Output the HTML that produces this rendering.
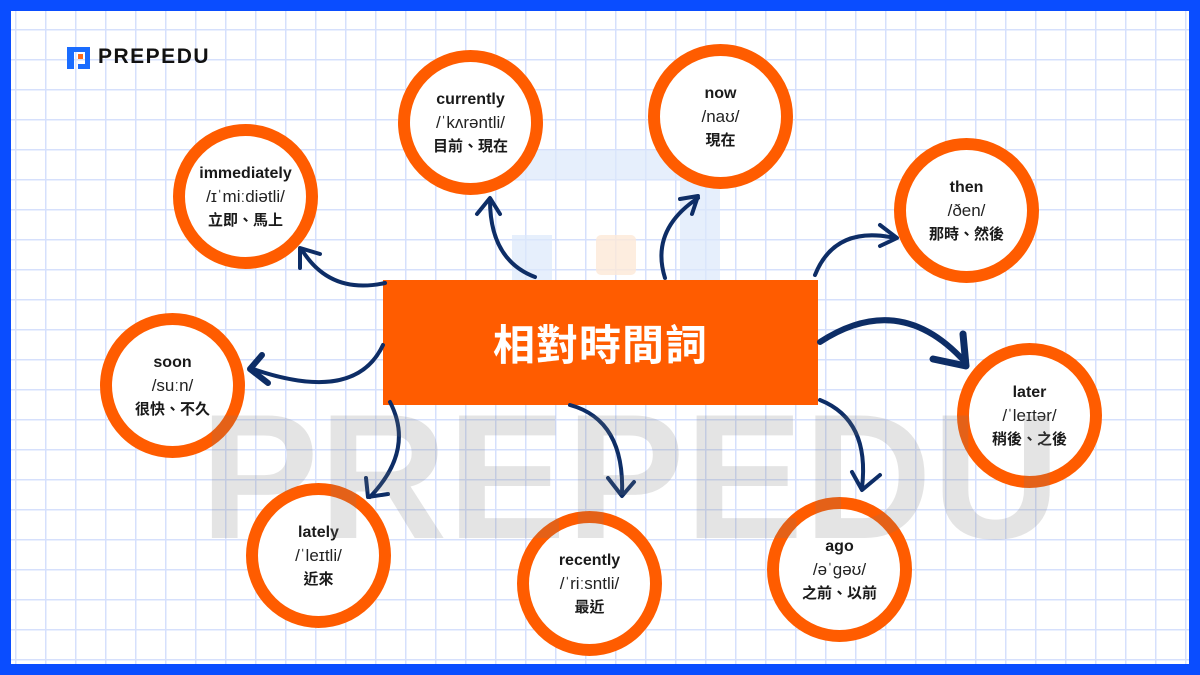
<!DOCTYPE html>
<html><head><meta charset="utf-8"><style>
html,body{margin:0;padding:0}
body{width:1200px;height:675px;overflow:hidden;position:relative;background:#0a4dff;font-family:"Liberation Sans","Noto Sans CJK TC",sans-serif}
.inner{position:absolute;left:11px;top:11px;width:1178px;height:653px;background-color:#fff;
background-image:linear-gradient(#d6e0fc 1.5px,transparent 1.5px),linear-gradient(90deg,#d6e0fc 1.5px,transparent 1.5px);
background-size:30px 30px;background-position:-11px 18px,4px 0}
.c{position:absolute;width:121px;height:121px;border:12px solid #ff5c00;border-radius:50%;background:#fff;display:flex;flex-direction:column;align-items:center;justify-content:center;text-align:center;color:#1a1a1a;line-height:23px}
.c b{font-size:16px}
.c i{font-style:normal;font-size:17px;color:#222}
.c span{font-size:15px;font-weight:bold;font-family:"Noto Sans CJK TC",sans-serif}
.box{position:absolute;left:383px;top:280px;width:435px;height:125px;background:#ff5c00;color:#fff;font-family:"Noto Sans CJK TC",sans-serif;font-weight:bold;font-size:42px;display:flex;align-items:center;justify-content:center;letter-spacing:1px}
.wm{position:absolute;left:200px;top:388px;font-size:178px;font-weight:bold;color:rgba(120,120,120,0.2);line-height:178px;white-space:nowrap}
</style></head><body>
<div class="inner"></div>
<svg style="position:absolute;left:0;top:0" width="1200" height="675">
<rect x="512" y="150" width="208" height="30" fill="#dbe8fb" opacity=".7"/>
<rect x="512" y="235" width="40" height="80" fill="#dbe8fb" opacity=".7"/>
<rect x="596" y="235" width="40" height="40" rx="5" fill="#fde9d7" opacity=".8"/>
<rect x="680" y="180" width="40" height="130" fill="#dbe8fb" opacity=".7"/>
</svg>
<div style="position:absolute;left:67px;top:45px;width:26px;height:26px">
<div style="position:absolute;left:0;top:2px;width:7px;height:22px;background:#1a6cff"></div>
<div style="position:absolute;left:0;top:2px;width:22px;height:5px;background:#1a6cff"></div>
<div style="position:absolute;left:11px;top:9px;width:5px;height:5px;background:#ff6a1a"></div>
<div style="position:absolute;left:18px;top:2px;width:5px;height:22px;background:#1a6cff"></div>
<div style="position:absolute;left:11px;top:19px;width:12px;height:5px;background:#1a6cff"></div>
</div>
<div style="position:absolute;left:98px;top:45px;font-size:21px;font-weight:bold;color:#111;letter-spacing:1.5px">PREPEDU</div>
<div class="box">相對時間詞</div>
<div class="c" style="left:173px;top:124px"><b>immediately</b><i>/ɪˈmiːdiətli/</i><span>立即、馬上</span></div>
<div class="c" style="left:398px;top:50px"><b>currently</b><i>/ˈkʌrəntli/</i><span>目前、現在</span></div>
<div class="c" style="left:648px;top:44px"><b>now</b><i>/naʊ/</i><span>現在</span></div>
<div class="c" style="left:894px;top:138px"><b>then</b><i>/ðen/</i><span>那時、然後</span></div>
<div class="c" style="left:957px;top:343px"><b>later</b><i>/ˈleɪtər/</i><span>稍後、之後</span></div>
<div class="c" style="left:767px;top:497px"><b>ago</b><i>/əˈɡəʊ/</i><span>之前、以前</span></div>
<div class="c" style="left:517px;top:511px"><b>recently</b><i>/ˈriːsntli/</i><span>最近</span></div>
<div class="c" style="left:246px;top:483px"><b>lately</b><i>/ˈleɪtli/</i><span>近來</span></div>
<div class="c" style="left:100px;top:313px"><b>soon</b><i>/suːn/</i><span>很快、不久</span></div>
<svg style="position:absolute;left:0;top:0" width="1200" height="675" fill="none" stroke="#0d2d66" stroke-linecap="round" stroke-linejoin="round">
<g stroke-width="4">
<path d="M385 283 Q330 295 302 250"/><path d="M300 268 L300 248 L320 254"/>
<path d="M535 277 Q490 260 490 200"/><path d="M477 214 L490 198 L500 214"/>
<path d="M665 278 Q650 230 698 198"/><path d="M680 199 L698 196 L692 214"/>
<path d="M815 275 Q835 225 895 238"/><path d="M880 225 L897 238 L880 246"/>
<path d="M820 342 Q900 290 965 362" stroke-width="6"/><path d="M933 359 L966 366 L963 334" stroke-width="7"/>
<path d="M820 400 Q870 420 862 488"/><path d="M852 472 L862 490 L880 475"/>
<path d="M570 405 Q625 420 622 495"/><path d="M608 478 L622 496 L634 482"/>
<path d="M390 402 Q415 450 370 497"/><path d="M366 478 L368 497 L388 494"/>
<path d="M383 345 Q355 405 250 368"/><path d="M262 355 L250 369 L268 383" stroke-width="6"/>
</g></svg>
<div class="wm">PREPEDU</div>
</body></html>
